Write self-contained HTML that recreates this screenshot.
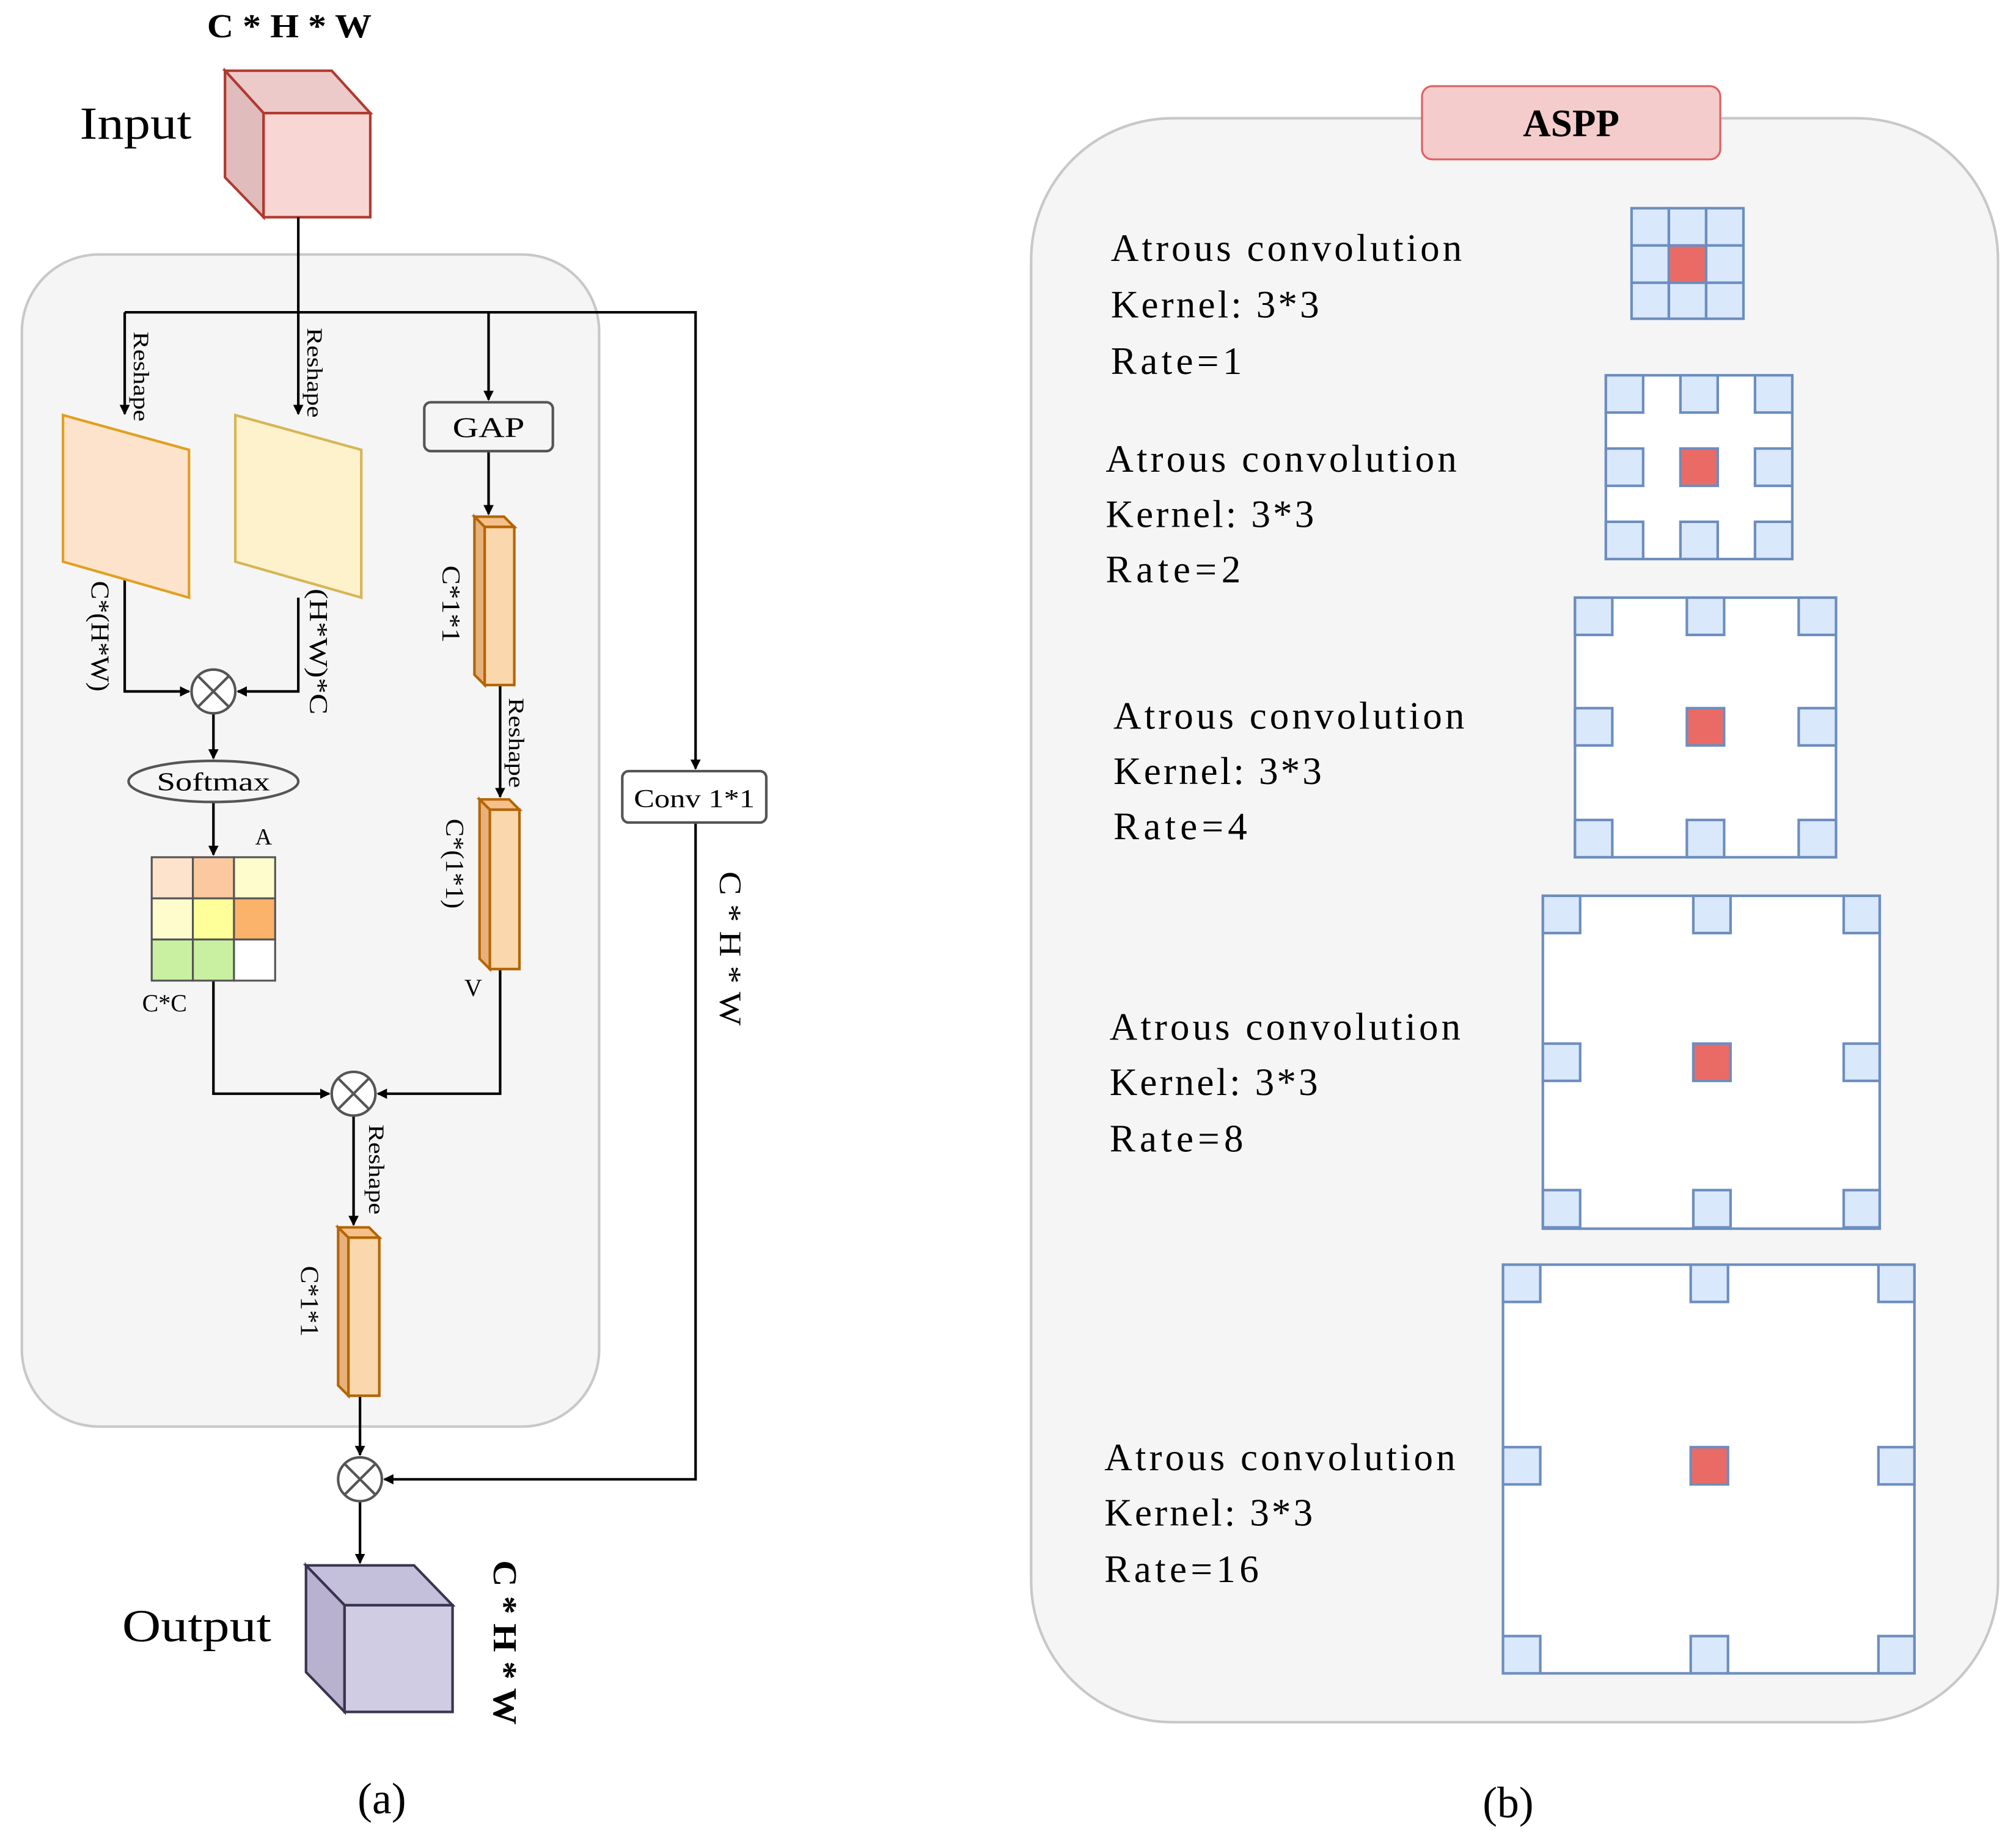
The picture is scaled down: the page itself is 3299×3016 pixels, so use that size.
<!DOCTYPE html>
<html><head><meta charset="utf-8"><style>html,body{margin:0;padding:0;background:#fff}svg{display:block}</style></head><body>
<svg width="3299" height="3016" viewBox="0 0 1568 1434" preserveAspectRatio="none" xmlns="http://www.w3.org/2000/svg" font-family="Liberation Serif, serif">
<defs><marker id="ar" markerWidth="8" markerHeight="8" refX="7" refY="4" orient="auto" markerUnits="userSpaceOnUse"><path d="M0,0 L8,4 L0,8 z" fill="#000"/></marker></defs>
<rect width="1568" height="1434" fill="#fff"/>
<rect x="17" y="198" width="449" height="912" rx="60" fill="#f5f5f5" stroke="#c8c8c8" stroke-width="2"/>
<text x="161" y="29" font-size="26" font-weight="bold" textLength="128" lengthAdjust="spacingAndGlyphs">C * H * W</text>
<text x="62" y="108" font-size="36" textLength="87" lengthAdjust="spacingAndGlyphs">Input</text>
<polygon points="175,55 258,55 288,88 205,88" fill="#eccaca" stroke="#b03a30" stroke-width="2"/>
<polygon points="175,55 205,88 205,169 175,138" fill="#e0bcbc" stroke="#b03a30" stroke-width="2"/>
<rect x="205" y="88" width="83" height="81" fill="#f8d6d4" stroke="#b03a30" stroke-width="2"/>
<g stroke="#000" stroke-width="2" fill="none">
<path d="M232,169 V322" marker-end="url(#ar)"/>
<path d="M97,243 H541 V598" marker-end="url(#ar)"/>
<path d="M97,243 V322" marker-end="url(#ar)"/>
<path d="M380,243 V311" marker-end="url(#ar)"/>
<path d="M97,437 V538 H147" marker-end="url(#ar)"/>
<path d="M232,465 V538 H185" marker-end="url(#ar)"/>
<path d="M166,555 V590" marker-end="url(#ar)"/>
<path d="M166,624 V665" marker-end="url(#ar)"/>
<path d="M380,351 V400" marker-end="url(#ar)"/>
<path d="M389,533 V620" marker-end="url(#ar)"/>
<path d="M389,754 V851 H294" marker-end="url(#ar)"/>
<path d="M166,763 V851 H256" marker-end="url(#ar)"/>
<path d="M275,868 V953" marker-end="url(#ar)"/>
<path d="M280,1086 V1132" marker-end="url(#ar)"/>
<path d="M541,640 V1151 H299" marker-end="url(#ar)"/>
<path d="M280,1169 V1216" marker-end="url(#ar)"/>
</g>
<polygon points="49,323 147,350 147,465 49,437" fill="#fde3cc" stroke="#e0a020" stroke-width="2"/>
<polygon points="183,323 281,350 281,465 183,437" fill="#fef2cc" stroke="#d6b656" stroke-width="2"/>
<g font-size="17">
<text transform="translate(104,258) rotate(90)" textLength="70" lengthAdjust="spacingAndGlyphs">Reshape</text>
<text transform="translate(239,255) rotate(90)" textLength="70" lengthAdjust="spacingAndGlyphs">Reshape</text>
<text transform="translate(396,543) rotate(90)" textLength="70" lengthAdjust="spacingAndGlyphs">Reshape</text>
<text transform="translate(287,875) rotate(90)" textLength="70" lengthAdjust="spacingAndGlyphs">Reshape</text>
</g>
<g font-size="20">
<text transform="translate(71,452) rotate(90)" textLength="86" lengthAdjust="spacingAndGlyphs">C*(H*W)</text>
<text transform="translate(241,458) rotate(90)" textLength="98" lengthAdjust="spacingAndGlyphs">(H*W)*C</text>
<text transform="translate(344,440) rotate(90)" textLength="60" lengthAdjust="spacingAndGlyphs">C*1*1</text>
<text transform="translate(347,637) rotate(90)" textLength="70" lengthAdjust="spacingAndGlyphs">C*(1*1)</text>
<text transform="translate(234,985) rotate(90)" textLength="55" lengthAdjust="spacingAndGlyphs">C*1*1</text>
<text x="205" y="657" font-size="18" text-anchor="middle">A</text>
<text x="128" y="787" font-size="19" text-anchor="middle">C*C</text>
<text x="368" y="775" font-size="19" text-anchor="middle">V</text>
<text transform="translate(560,678) rotate(90)" font-size="24" textLength="120" lengthAdjust="spacingAndGlyphs">C * H * W</text>
</g>
<g stroke="#555" stroke-width="2" fill="#fff">
<circle cx="166" cy="538" r="17"/><circle cx="275" cy="851" r="17"/><circle cx="280" cy="1151" r="17"/>
</g>
<g stroke="#555" stroke-width="2">
<path d="M154,526 L178,550 M178,526 L154,550"/><path d="M263,839 L287,863 M287,839 L263,863"/><path d="M268,1139 L292,1163 M292,1139 L268,1163"/>
</g>
<ellipse cx="166" cy="608" rx="66" ry="16" fill="#f5f5f5" stroke="#555" stroke-width="2"/>
<text x="166" y="615" font-size="20" text-anchor="middle" textLength="88" lengthAdjust="spacingAndGlyphs">Softmax</text>
<g stroke="#555" stroke-width="1.5">
<rect x="118" y="667" width="32" height="32" fill="#fde3cc"/><rect x="150" y="667" width="32" height="32" fill="#fbc9a0"/><rect x="182" y="667" width="32" height="32" fill="#fefccc"/>
<rect x="118" y="699" width="32" height="32" fill="#fefccc"/><rect x="150" y="699" width="32" height="32" fill="#ffff99"/><rect x="182" y="699" width="32" height="32" fill="#fbb26b"/>
<rect x="118" y="731" width="32" height="32" fill="#c8f0a0"/><rect x="150" y="731" width="32" height="32" fill="#c8f0a0"/><rect x="182" y="731" width="32" height="32" fill="#fff"/>
</g>
<rect x="330" y="313" width="100" height="38" rx="5" fill="#f5f5f5" stroke="#555" stroke-width="2"/>
<text x="380" y="340" font-size="22" text-anchor="middle" textLength="56" lengthAdjust="spacingAndGlyphs">GAP</text>
<rect x="484" y="600" width="112" height="40" rx="5" fill="#fff" stroke="#555" stroke-width="2"/>
<text x="540" y="628" font-size="20" text-anchor="middle" textLength="94" lengthAdjust="spacingAndGlyphs">Conv 1*1</text>
<g stroke="#b46504" stroke-width="2">
<polygon points="369,402 392,402 400,410 377,410" fill="#f5c08a"/><polygon points="369,402 377,410 377,533 369,525" fill="#e8b07a"/><rect x="377" y="410" width="23" height="123" fill="#fad7ac"/>
<polygon points="373,622 396,622 404,630 381,630" fill="#f5c08a"/><polygon points="373,622 381,630 381,754 373,746" fill="#e8b07a"/><rect x="381" y="630" width="23" height="124" fill="#fad7ac"/>
<polygon points="263,955 287,955 295,963 271,963" fill="#f5c08a"/><polygon points="263,955 271,963 271,1086 263,1078" fill="#e8b07a"/><rect x="271" y="963" width="24" height="123" fill="#fad7ac"/>
</g>
<text x="95" y="1277" font-size="36" textLength="116" lengthAdjust="spacingAndGlyphs">Output</text>
<polygon points="238,1218 322,1218 352,1249 268,1249" fill="#c4bfdb" stroke="#3a3450" stroke-width="2"/>
<polygon points="238,1218 268,1249 268,1332 238,1301" fill="#b8b2cf" stroke="#3a3450" stroke-width="2"/>
<rect x="268" y="1249" width="84" height="83" fill="#d0cce4" stroke="#3a3450" stroke-width="2"/>
<text transform="translate(384,1214) rotate(90)" font-size="26" font-weight="bold" textLength="128" lengthAdjust="spacingAndGlyphs">C * H * W</text>
<text x="297" y="1411" font-size="34" text-anchor="middle">(a)</text>
<text x="1173" y="1414" font-size="34" text-anchor="middle">(b)</text>
<rect x="802" y="92" width="752" height="1248" rx="110" fill="#f5f5f5" stroke="#c8c8c8" stroke-width="2"/>
<rect x="1106" y="67" width="232" height="57" rx="8" fill="#f5cccc" stroke="#e06060" stroke-width="1.5"/>
<text x="1222" y="106" font-size="30" font-weight="bold" text-anchor="middle">ASPP</text>
<g font-size="30" lengthAdjust="spacingAndGlyphs">
<text x="864" y="203" textLength="273">Atrous convolution</text><text x="864" y="247" textLength="162">Kernel: 3*3</text><text x="864" y="291" textLength="102">Rate=1</text>
<text x="860" y="367" textLength="273">Atrous convolution</text><text x="860" y="410" textLength="162">Kernel: 3*3</text><text x="860" y="453" textLength="105">Rate=2</text>
<text x="866" y="567" textLength="273">Atrous convolution</text><text x="866" y="610" textLength="162">Kernel: 3*3</text><text x="866" y="653" textLength="104">Rate=4</text>
<text x="863" y="809" textLength="273">Atrous convolution</text><text x="863" y="852" textLength="162">Kernel: 3*3</text><text x="863" y="896" textLength="104">Rate=8</text>
<text x="859" y="1144" textLength="273">Atrous convolution</text><text x="859" y="1187" textLength="162">Kernel: 3*3</text><text x="859" y="1231" textLength="120">Rate=16</text>
</g>
<g stroke="#6c8ebf" stroke-width="2" fill="#dae8fc">
<rect x="1269" y="162" width="29" height="29"/><rect x="1298" y="162" width="29" height="29"/><rect x="1327" y="162" width="29" height="29"/>
<rect x="1269" y="191" width="29" height="29"/><rect x="1298" y="191" width="29" height="29" fill="#ea6b66"/><rect x="1327" y="191" width="29" height="29"/>
<rect x="1269" y="220" width="29" height="28"/><rect x="1298" y="220" width="29" height="28"/><rect x="1327" y="220" width="29" height="28"/>
<rect x="1249" y="292" width="145" height="143" fill="#fff"/>
<rect x="1249" y="292" width="29" height="29"/><rect x="1307" y="292" width="29" height="29"/><rect x="1365" y="292" width="29" height="29"/>
<rect x="1249" y="349" width="29" height="29"/><rect x="1307" y="349" width="29" height="29" fill="#ea6b66"/><rect x="1365" y="349" width="29" height="29"/>
<rect x="1249" y="406" width="29" height="29"/><rect x="1307" y="406" width="29" height="29"/><rect x="1365" y="406" width="29" height="29"/>
<rect x="1225" y="465" width="203" height="202" fill="#fff"/>
<rect x="1225" y="465" width="29" height="29"/><rect x="1312" y="465" width="29" height="29"/><rect x="1399" y="465" width="29" height="29"/>
<rect x="1225" y="551" width="29" height="29"/><rect x="1312" y="551" width="29" height="29" fill="#ea6b66"/><rect x="1399" y="551" width="29" height="29"/>
<rect x="1225" y="638" width="29" height="29"/><rect x="1312" y="638" width="29" height="29"/><rect x="1399" y="638" width="29" height="29"/>
<rect x="1200" y="697" width="262" height="259" fill="#fff"/>
<rect x="1200" y="697" width="29" height="29"/><rect x="1317" y="697" width="29" height="29"/><rect x="1434" y="697" width="28" height="29"/>
<rect x="1200" y="812" width="29" height="29"/><rect x="1317" y="812" width="29" height="29" fill="#ea6b66"/><rect x="1434" y="812" width="28" height="29"/>
<rect x="1200" y="926" width="29" height="29"/><rect x="1317" y="926" width="29" height="29"/><rect x="1434" y="926" width="28" height="29"/>
<rect x="1169" y="984" width="320" height="318" fill="#fff"/>
<rect x="1169" y="984" width="29" height="29"/><rect x="1315" y="984" width="29" height="29"/><rect x="1461" y="984" width="28" height="29"/>
<rect x="1169" y="1126" width="29" height="29"/><rect x="1315" y="1126" width="29" height="29" fill="#ea6b66"/><rect x="1461" y="1126" width="28" height="29"/>
<rect x="1169" y="1273" width="29" height="29"/><rect x="1315" y="1273" width="29" height="29"/><rect x="1461" y="1273" width="28" height="29"/>
</g>
</svg>
</body></html>
